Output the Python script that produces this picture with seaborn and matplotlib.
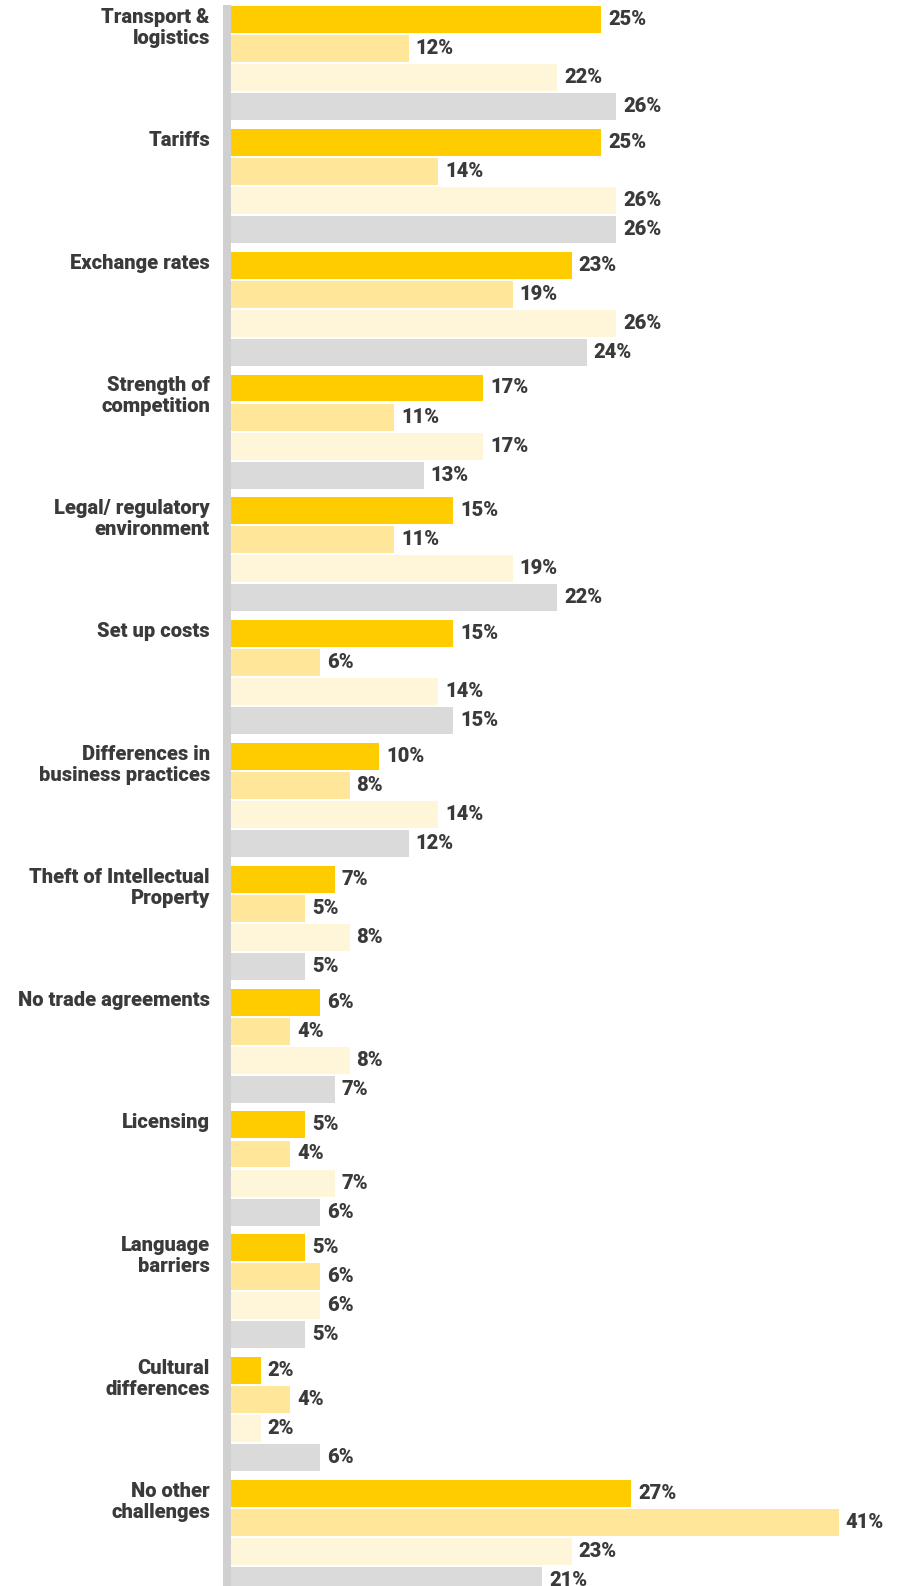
import matplotlib
matplotlib.use("Agg")
import matplotlib.pyplot as plt
from matplotlib.patches import Rectangle
import seaborn as sns
import pandas as pd

# Barriers to trade, share of respondents (%) per segment
challenges = [
    "Transport &\nlogistics",
    "Tariffs",
    "Exchange rates",
    "Strength of\ncompetition",
    "Legal/ regulatory\nenvironment",
    "Set up costs",
    "Differences in\nbusiness practices",
    "Theft of Intellectual\nProperty",
    "No trade agreements",
    "Licensing",
    "Language\nbarriers",
    "Cultural\ndifferences",
    "No other\nchallenges",
]
segment_1 = [25, 25, 23, 17, 15, 15, 10, 7, 6, 5, 5, 2, 27]
segment_2 = [12, 14, 19, 11, 11, 6, 8, 5, 4, 4, 6, 4, 41]
segment_3 = [22, 26, 26, 17, 19, 14, 14, 8, 8, 7, 6, 2, 23]
segment_4 = [26, 26, 24, 13, 22, 15, 12, 5, 7, 6, 5, 6, 21]
segments = ["Segment 1", "Segment 2", "Segment 3", "Segment 4"]
colors = ["#FFCC00", "#FFE699", "#FFF5D9", "#DADADA"]

rows = []
for seg, vals in zip(segments, [segment_1, segment_2, segment_3, segment_4]):
    for c, v in zip(challenges, vals):
        rows.append({"challenge": c, "segment": seg, "value": v})
df = pd.DataFrame(rows)

sns.set_theme(style="white")
plt.rcParams["font.family"] = ["Roboto", "DejaVu Sans"]

W, H, DPI = 903, 1586, 100
fig = plt.figure(figsize=(W / DPI, H / DPI), dpi=DPI)
x0 = 231
ax = fig.add_axes([x0 / W, 0, (W - x0) / W, 1])

sns.barplot(
    data=df, y="challenge", x="value", hue="segment", order=challenges,
    hue_order=segments, palette=colors, orient="h", width=0.945, gap=0.07,
    saturation=1, errorbar=None, legend=False, linewidth=0, ax=ax,
)

px_per_unit = 122.83
top = -0.4725 - 5 / px_per_unit
ax.set_ylim(top + H / px_per_unit, top)
ax.set_xlim(0, (W - x0) / 14.82)
ax.axis("off")

text_color = "#3a3a3a"
for cont in ax.containers:
    ax.bar_label(cont, labels=[f"{int(round(b.get_width()))}%" for b in cont],
                 padding=5, fontsize=14.5, fontweight=900, color=text_color)

label_x = -21 / (W - x0)
for i, c in enumerate(challenges):
    ax.text(label_x, i - 0.4725 + 3 / px_per_unit, c,
            transform=ax.get_yaxis_transform(),
            ha="right", va="top", ma="right", fontsize=14.5, fontweight=900,
            color=text_color, linespacing=1.12)

# vertical baseline strip
fig.add_artist(Rectangle((223 / W, 0), 8 / W, (H - 5) / H,
                         transform=fig.transFigure, color="#D0D0D0", lw=0))

fig.savefig("out.png", dpi=DPI, facecolor="white")
